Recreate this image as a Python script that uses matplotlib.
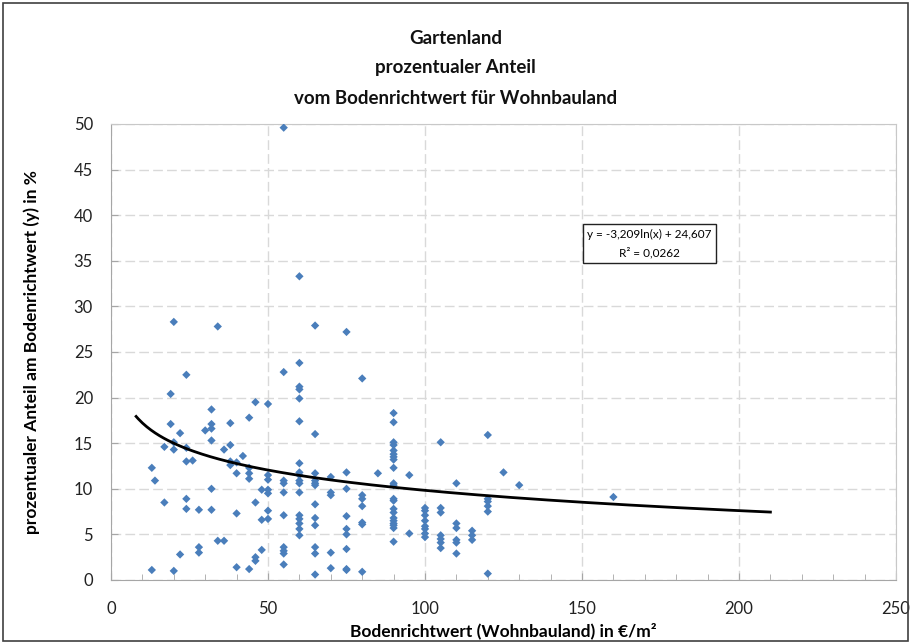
import numpy as np
import matplotlib
matplotlib.use("Agg")
import matplotlib.pyplot as plt
import matplotlib.ticker as mticker
from matplotlib.patches import Rectangle

# ── Data ──────────────────────────────────────────────────────
bodenrichtwert = [
    13, 14, 13,
    17, 17,
    19, 19, 20, 20, 20, 20,
    22, 22,
    24, 24, 24, 24, 24,
    26,
    28, 28, 28,
    30,
    32, 32, 32, 32, 32, 32,
    34, 34,
    36, 36,
    38, 38, 38, 38,
    40, 40, 40, 40,
    42,
    44, 44, 44, 44, 44,
    46, 46, 46, 46,
    48, 48, 48,
    50, 50, 50, 50, 50, 50, 50,
    55, 55, 55, 55, 55, 55, 55, 55, 55, 55,
    60, 60, 60, 60, 60, 60, 60, 60, 60, 60, 60, 60, 60, 60, 60, 60, 60,
    65, 65, 65, 65, 65, 65, 65, 65, 65, 65, 65, 65,
    70, 70, 70, 70, 70,
    75, 75, 75, 75, 75, 75, 75, 75, 75,
    80, 80, 80, 80, 80, 80, 80,
    85,
    90, 90, 90, 90, 90, 90, 90, 90, 90, 90, 90, 90, 90, 90, 90, 90, 90,
    90, 90, 90, 90,
    95, 95,
    100, 100, 100, 100, 100, 100, 100, 100,
    105, 105, 105, 105, 105, 105, 105,
    110, 110, 110, 110, 110, 110,
    115, 115, 115,
    120, 120, 120, 120, 120, 120,
    125, 130, 160,
]
anteil = [
    12.3, 10.9, 1.1,
    14.6, 8.5,
    20.4, 17.1, 15.1, 14.3, 1.0, 28.3,
    16.1, 2.8,
    14.5, 13.0, 8.9, 7.8, 22.5,
    13.1,
    7.7, 3.6, 3.0,
    16.4,
    18.7, 17.1, 16.6, 15.3, 10.0, 7.7,
    4.3, 27.8,
    14.3, 4.3,
    17.2, 14.8, 13.0, 12.6,
    12.9, 11.7, 7.3, 1.4,
    13.6,
    17.8, 12.3, 11.7, 11.1, 1.2,
    19.5, 8.5, 2.5, 2.1,
    9.9, 6.6, 3.3,
    19.3, 11.5, 11.0, 9.9, 9.5, 7.6, 6.7,
    49.6, 22.8, 10.9, 10.6, 9.6, 7.1, 3.6, 3.2, 2.9, 1.7,
    33.3, 23.8, 21.2, 20.9, 19.9, 17.4, 12.8, 11.8, 11.5, 10.9, 10.6, 9.6,
    7.1, 6.7, 6.2, 5.6, 4.9,
    27.9, 16.0, 11.7, 10.9, 10.6, 10.4, 8.3, 6.8, 6.0, 3.6, 2.9, 0.6,
    11.3, 9.6, 9.3, 3.0, 1.3,
    27.2, 11.8, 10.0, 7.0, 5.6, 5.0, 3.4, 1.2, 1.1,
    22.1, 9.3, 8.9, 8.1, 6.3, 6.1, 0.9,
    11.7,
    18.3, 17.3, 15.1, 14.8, 14.2, 13.8, 13.5, 13.2, 12.3, 10.6, 10.4, 8.9,
    8.7, 7.8, 7.4, 6.8, 6.5, 6.2, 6.0, 5.7, 4.2,
    11.5, 5.1,
    7.9, 7.6, 7.1, 6.5, 5.9, 5.6, 5.1, 4.7,
    15.1, 7.9, 7.4, 4.9, 4.5, 4.1, 3.5,
    10.6, 6.2, 5.7, 4.4, 4.1, 2.9,
    5.4, 4.9, 4.4,
    15.9, 8.9, 8.6, 8.1, 7.5, 0.7,
    11.8, 10.4, 9.1,
]

# logarithmic trend line (Excel): y = a*ln(x) + b
trend_a = -3.209
trend_b = 24.607
trend_range = (8, 210)

title_lines = ["Gartenland", "prozentualer Anteil",
               "vom Bodenrichtwert für Wohnbauland"]
equation_text = "y = -3,209ln(x) + 24,607\nR² = 0,0262"

# ── Style ─────────────────────────────────────────────────────
plt.rcParams["font.family"] = ["Lato", "DejaVu Sans"]
BLUE = "#4a7ebb"
GRID = "#d9d9d9"
W, H = 911, 644

fig = plt.figure(figsize=(W / 100, H / 100), dpi=100)
fig.patches.append(Rectangle((3 / W, 3 / H), 1 - 6 / W, 1 - 6 / H,
                             transform=fig.transFigure, fill=False,
                             edgecolor="#404040", linewidth=1.2))

ax = fig.add_axes([111 / W, 1 - 580 / H, (896 - 111) / W, (580 - 124) / H])

ax.scatter(bodenrichtwert, anteil, marker="D", s=18, color=BLUE,
           edgecolors="none", zorder=3)

xs = np.linspace(trend_range[0], trend_range[1], 300)
ax.plot(xs, trend_a * np.log(xs) + trend_b, color="black",
        linewidth=2.0, zorder=4)

ax.set_xlim(0, 250)
ax.set_ylim(0, 50)
ax.xaxis.set_major_locator(mticker.MultipleLocator(50))
ax.xaxis.set_minor_locator(mticker.MultipleLocator(10))
ax.yaxis.set_major_locator(mticker.MultipleLocator(5))

ax.grid(True, which="major", color=GRID, linestyle=(0, (7, 3)),
        linewidth=1.0, zorder=0)
for s in ax.spines.values():
    s.set_color("#c8c8c8")
ax.spines["left"].set_color("#a6a6a6")
ax.spines["bottom"].set_color("#a6a6a6")

ax.tick_params(axis="both", which="major", direction="in", length=5,
               color="#a6a6a6", labelsize=12, labelcolor="#222222")
ax.tick_params(axis="x", which="major", pad=15)
ax.tick_params(axis="y", which="major", pad=13)
ax.tick_params(axis="x", which="minor", direction="in", length=4,
               color="#a6a6a6")

ax.set_xlabel("Bodenrichtwert (Wohnbauland) in €/m²", fontsize=12.5,
              fontweight="bold")
ax.xaxis.set_label_coords(0.5, -(623 - 580) / (580 - 124))
ax.set_ylabel("prozentualer Anteil am Bodenrichtwert (y) in %",
              fontsize=12.5, fontweight="bold")
ax.yaxis.set_label_coords(-(111 - 40) / (896 - 111), 0.5)

for i, line in enumerate(title_lines):
    fig.text(0.5, 1 - (38 + 30 * i) / H, line, ha="center", va="center",
             fontsize=13.5, fontweight="bold", color="#111111")

ax.text(171.5, 36.9, equation_text, ha="center", va="center",
        multialignment="center", fontsize=8.5, linespacing=1.7, zorder=5,
        bbox=dict(boxstyle="square,pad=0.4", facecolor="white",
                  edgecolor="#222222", linewidth=1.0))

fig.savefig("out.png", dpi=100)
